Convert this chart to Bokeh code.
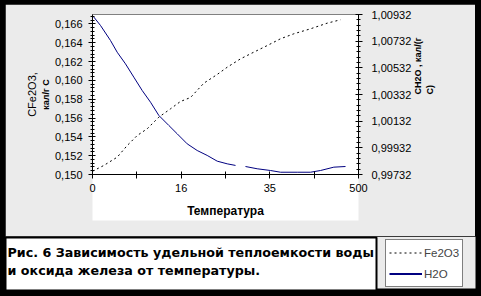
import math
from bokeh.plotting import figure
from bokeh.layouts import column
from bokeh.models import (Range1d, LinearAxis, FixedTicker, CustomJSTickFormatter,
                          Label, Legend, LegendItem)
from bokeh.embed import file_html
from bokeh.resources import INLINE

# ---- data ----
# x positions are in category-tick units (7 ticks, labelled every other one)
x_tick_labels = ["0", "", "16", "", "35", "", "500"]

x_fe2o3 = [0.0, 0.255, 0.557, 0.783, 1.008, 1.234, 1.496, 1.760, 1.985, 2.211,
           2.511, 2.813, 3.039, 3.339, 3.639, 3.941, 4.241, 4.541, 4.918, 5.294, 5.594]
c_fe2o3 = [0.15035, 0.15096, 0.15184, 0.15308, 0.15414, 0.15486, 0.15609, 0.15698,
           0.15776, 0.15818, 0.15970, 0.16063, 0.16140, 0.16229, 0.16300, 0.16370,
           0.16442, 0.16495, 0.16548, 0.16608, 0.16644]

nan = float("nan")
x_h2o = [0.0, 0.18, 0.406, 0.557, 0.744, 0.932, 1.121, 1.309, 1.496, 1.721, 1.911,
         2.136, 2.362, 2.587, 2.813, 3.039, 3.226, 3.338, 3.451, 3.715, 4.015, 4.241,
         4.618, 4.918, 5.143, 5.443, 5.707]
c_h2o = [1.00925, 1.00850, 1.00737, 1.00649, 1.00562, 1.00462, 1.00362, 1.00274,
         1.00175, 1.00100, 1.00037, 0.99962, 0.99912, 0.99875, 0.99832, 0.99812,
         0.99800, nan, 0.99792, 0.99775, 0.99762, 0.99749, 0.99749, 0.99749,
         0.99762, 0.99787, 0.99792]

left_ticks = [0.150, 0.152, 0.154, 0.156, 0.158, 0.160, 0.162, 0.164, 0.166]
right_ticks = [0.99732, 0.99932, 1.00132, 1.00332, 1.00532, 1.00732, 1.00932]

x_title = "Температура"
left_title = "CFe2O3,"
left_unit = "кал/г С"
right_title = "CH2O , кал/(г\nС)"
caption_lines = ["Рис. 6 Зависимость удельной теплоемкости воды",
                 "и оксида железа от температуры."]
legend_labels = ["Fe2O3", "H2O"]

FONT = "Liberation Sans"
GRAY = "#ebebeb"
NAVY = "#000080"

# ================= main chart =================
p = figure(width=470, height=232, output_backend="svg", toolbar_location=None,
           x_range=Range1d(0, 6), y_range=Range1d(0.150, 0.167),
           min_border_left=87, min_border_right=117, min_border_top=10,
           min_border_bottom=62, border_fill_color=GRAY,
           background_fill_color="white", outline_line_color="#808080")
p.margin = (4, 6, 0, 5)
p.frame_align = False
p.extra_y_ranges = {"h2o": Range1d(0.99732, 1.00932)}
p.xgrid.visible = False
p.ygrid.visible = False

r_fe = p.line(x_fe2o3, c_fe2o3, line_color="black", line_width=1, line_dash="2 3")
r_h2o = p.line(x_h2o, c_h2o, line_color=NAVY, line_width=1, y_range_name="h2o")


def style_axis(ax):
    ax.axis_line_color = "black"
    ax.major_tick_line_color = "black"
    ax.minor_tick_line_color = "black"
    ax.major_tick_in = 3
    ax.major_tick_out = 4
    ax.minor_tick_in = 2
    ax.minor_tick_out = 2
    ax.major_label_text_font = FONT
    ax.major_label_text_font_size = "11px"
    ax.major_label_text_color = "black"
    ax.axis_label_text_font = FONT
    ax.axis_label_text_color = "black"


xa = p.xaxis[0]
style_axis(xa)
xa.ticker = FixedTicker(ticks=list(range(len(x_tick_labels))))
xa.formatter = CustomJSTickFormatter(args=dict(labels=x_tick_labels),
                                     code="return labels[Math.round(tick)] || '';")
xa.minor_tick_line_color = None
xa.major_label_standoff = 5
xa.axis_label = x_title
xa.axis_label_text_font_size = "12px"
xa.axis_label_text_font_style = "bold"
xa.axis_label_standoff = 9
xa.background_fill_color = "white"

ya = p.yaxis[0]
style_axis(ya)
ya.ticker = FixedTicker(ticks=left_ticks,
                        minor_ticks=[0.150 + 0.0004 * k for k in range(43)])
ya.formatter = CustomJSTickFormatter(code="return tick.toFixed(3).replace('.', ',');")
ya.major_label_standoff = 6
ya.axis_label = left_unit
ya.axis_label_text_font_size = "9px"
ya.axis_label_text_font_style = "bold"
ya.axis_label_standoff = 1

# outer (title-only) left axis
ta = LinearAxis(ticker=FixedTicker(ticks=[]), axis_line_color=None,
                major_tick_line_color=None, minor_tick_line_color=None,
                major_tick_out=0, major_tick_in=0, minor_tick_out=0, minor_tick_in=0,
                major_label_standoff=0, axis_label=left_title,
                axis_label_standoff=0, axis_label_text_font=FONT,
                axis_label_text_font_size="11px", axis_label_text_font_style="normal",
                axis_label_text_color="black")
p.add_layout(ta, "left")

ra = LinearAxis(y_range_name="h2o")
style_axis(ra)
ra.ticker = FixedTicker(ticks=right_ticks,
                        minor_ticks=[0.99732 + 0.0004 * k for k in range(31)])
ra.formatter = CustomJSTickFormatter(code="return tick.toFixed(5).replace('.', ',');")
ra.major_label_standoff = 9
ra.axis_label = right_title
ra.axis_label_text_font_size = "9px"
ra.axis_label_text_font_style = "bold"
ra.axis_label_standoff = 10
ra.axis_label_orientation = math.pi / 2
p.add_layout(ra, "right")

# ================= caption + legend strip =================
q = figure(width=481, height=60, output_backend="svg", toolbar_location=None,
           x_range=Range1d(0, 481), y_range=Range1d(296, 236),
           min_border=0, min_border_left=0, min_border_right=0,
           min_border_top=0, min_border_bottom=0,
           x_axis_type=None, y_axis_type=None,
           background_fill_color="black", border_fill_color="black",
           outline_line_color=None)
q.frame_align = False
q.xgrid.visible = False
q.ygrid.visible = False
q.quad(left=[5], right=[475], top=[236], bottom=[288], fill_color=GRAY, line_color=None)
q.quad(left=[5], right=[376], top=[237], bottom=[290], fill_color="white",
       line_color="black", line_width=2)
for i, line in enumerate(caption_lines):
    q.add_layout(Label(x=7, y=252 + 18 * i, text=line, text_baseline="middle",
                       text_font="DejaVu Sans", text_font_size="12.7px",
                       text_font_style="bold", text_color="black"))

# legend proxies (no visible data; they only carry the line styles)
l_fe = q.line([nan], [nan], line_color="black", line_width=1, line_dash="2 3")
l_h2o = q.line([nan], [nan], line_color=NAVY, line_width=2)
legend = Legend(items=[LegendItem(label=legend_labels[0], renderers=[l_fe]),
                       LegendItem(label=legend_labels[1], renderers=[l_h2o])],
                location=(385, 9), padding=3, spacing=2, margin=0,
                glyph_width=33, glyph_height=19, label_height=19, label_standoff=2,
                label_text_font=FONT, label_text_font_size="11.5px",
                border_line_color="black", border_line_width=1,
                background_fill_color="white", background_fill_alpha=1)
q.add_layout(legend)

page = column(p, q, spacing=0, styles={"background-color": "black"})
open("out.html", "w").write(file_html(page, INLINE))
